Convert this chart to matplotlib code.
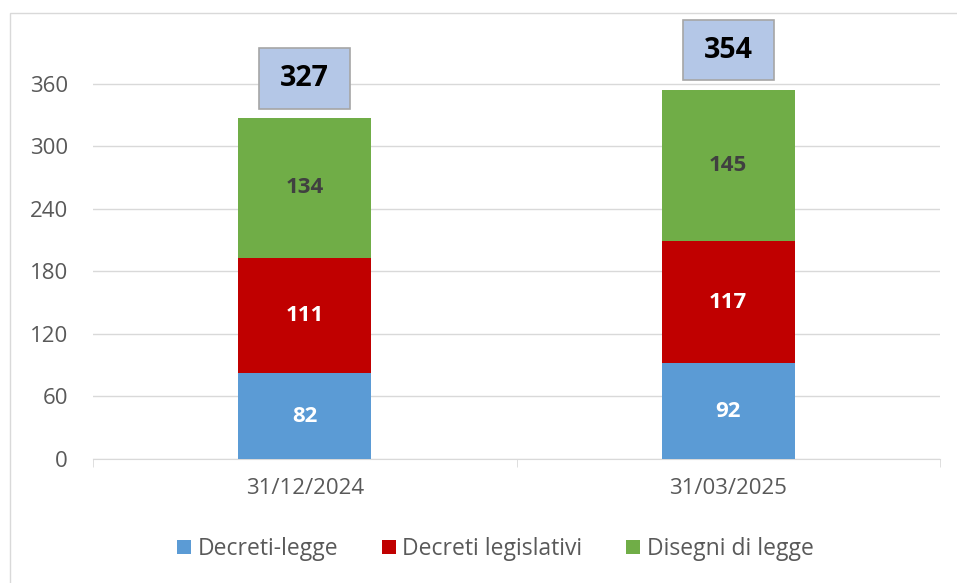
import matplotlib.pyplot as plt
import matplotlib.patches as mpatches
import numpy as np

# dati
date = ["31/12/2024", "31/03/2025"]
decreti_legge = [82, 92]
decreti_legislativi = [111, 117]
disegni_legge = [134, 145]
totali = [327, 354]

plt.rcParams['font.family'] = ['Open Sans', 'DejaVu Sans']

fig = plt.figure(figsize=(9.57, 5.83), dpi=100)
# cornice esterna
fig.patches.append(mpatches.Rectangle((10 / 957, -0.1), 1.2, 1 - 13 / 583 + 0.1,
                                      transform=fig.transFigure, fill=False,
                                      edgecolor="#d9d9d9", linewidth=1))
ax = fig.add_axes([93 / 957, 1 - 459 / 583, 847 / 957, 439 / 583])

x = np.arange(len(date))
w = 0.314
b1 = ax.bar(x, decreti_legge, w, color="#5b9bd5", label="Decreti-legge", zorder=3)
b2 = ax.bar(x, decreti_legislativi, w, bottom=decreti_legge, color="#c00000",
            label="Decreti legislativi", zorder=3)
base3 = np.array(decreti_legge) + np.array(decreti_legislativi)
b3 = ax.bar(x, disegni_legge, w, bottom=base3, color="#70ad47",
            label="Disegni di legge", zorder=3)

ax.bar_label(b1, label_type="center", color="white", fontsize=16, fontweight="bold")
ax.bar_label(b2, label_type="center", color="white", fontsize=16, fontweight="bold")
ax.bar_label(b3, label_type="center", color="#404040", fontsize=16, fontweight="bold")

# riquadri con i totali
bw, bh, gap = 0.215, 58, 9
for xi, t in zip(x, totali):
    ax.add_patch(mpatches.Rectangle((xi - bw / 2, t + gap), bw, bh, facecolor="#b4c7e7",
                                    edgecolor="#a6a6a6", linewidth=1.2, zorder=5,
                                    clip_on=False))
    ax.text(xi, t + gap + bh / 2, str(t), ha="center", va="center", fontsize=20.5,
            fontweight="bold", color="black", zorder=6)

ax.set_xlim(-0.5, 1.5)
ax.set_ylim(0, 421)
ax.set_yticks(range(0, 361, 60))
ax.yaxis.grid(True, color="#d9d9d9", linewidth=1, zorder=0)
ax.set_axisbelow(True)
for s in ["top", "right", "left"]:
    ax.spines[s].set_visible(False)
ax.spines["bottom"].set_color("#d9d9d9")
ax.tick_params(axis="y", length=0, labelsize=16, labelcolor="#595959", pad=18)
ax.set_xticks(x)
ax.set_xticklabels(date)
ax.tick_params(axis="x", length=0, labelsize=16, labelcolor="#595959", pad=14)
ax.set_xticks([-0.5, 0.5, 1.5], minor=True)
ax.tick_params(axis="x", which="minor", length=6, color="#d9d9d9")

ax.legend(loc="center", bbox_to_anchor=(0.475, -0.205), ncol=3, frameon=False,
          fontsize=16.5, labelcolor="#595959", handlelength=0.6, handleheight=0.6,
          handletextpad=0.3, columnspacing=1.9)

fig.savefig("out.png", dpi=100)
